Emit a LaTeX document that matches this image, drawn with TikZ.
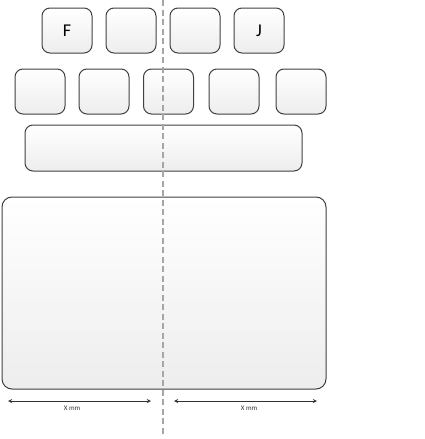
\documentclass[tikz,border=0pt]{standalone}
\usepackage{fontspec}
\setmainfont{Carlito}

\tikzset{
  key/.style={draw=gray!50!black, line width=1pt, rounded corners=8pt,
    top color=white, bottom color=gray!14, minimum width=50pt,
    minimum height=45pt, inner sep=0pt, font=\fontsize{18}{18}\selectfont},
  dim/.style={<->, gray!40!black, line width=0.9pt},
  dimlabel/.style={font=\fontsize{7}{8}\selectfont, text=gray!40!black, inner sep=0pt}
}

\begin{document}
\begin{tikzpicture}[x=1pt,y=-1pt,>=stealth]
\useasboundingbox (0,0) rectangle (425,439);
% keys
\foreach \x/\t [count=\i] in {67/F,131/,195/,259/J}
  \node[key] (top\i) at (\x,30.5) {\t};
\foreach \x [count=\i] in {40,104,168.5,234,301}
  \node[key] (mid\i) at (\x,91.5) {};
\node[key, minimum width=277pt, minimum height=46pt] (space) at (163.5,148) {};
% touchpad
\node[key, minimum width=324pt, minimum height=192pt, rounded corners=10pt] (pad) at (164,293) {};

\draw[gray!70, line width=1.8pt, dash pattern=on 6pt off 3.5pt] (163,0) -- (163,436);

\coordinate (l1) at (8,401);
\coordinate (l2) at (151,401);
\coordinate (r1) at (174,401);
\coordinate (r2) at (317,401);
\draw[dim] (l1) -- (l2);
\draw[dim] (r1) -- (r2);
\node[dimlabel] (lx) at (72,408) {X mm};
\node[dimlabel] (rx) at (249,408) {X mm};
\end{tikzpicture}
\end{document}
